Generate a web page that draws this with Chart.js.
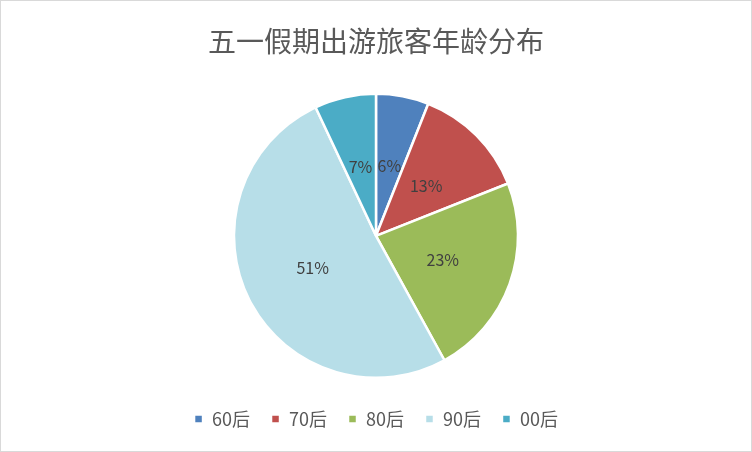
<!DOCTYPE html>
<html>
<head>
<meta charset="utf-8">
<script src="https://cdn.jsdelivr.net/npm/chart.js@4/dist/chart.umd.min.js"></script>
<style>
  html, body { margin: 0; padding: 0; background: #fff; }
  #wrap { position: absolute; left: 0; top: 0; width: 750px; height: 450px; border: 1px solid #d9d9d9; }
</style>
</head>
<body>
<div id="wrap"><canvas id="graph"></canvas></div>
<script>
// 年龄段
const labels = ["60后", "70后", "80后", "90后", "00后"];
// 占比 (%)
const shares = [6, 13, 23, 51, 7];
const colors = ["#4F81BD", "#C0504D", "#9BBB59", "#B7DEE8", "#4BACC6"];

const fontFamily = "'Noto Sans CJK SC', 'Noto Sans', sans-serif";

// 扇区中间画百分比
const pctLabels = {
  id: "pctLabels",
  afterDatasetsDraw(chart) {
    const ctx = chart.ctx;
    const meta = chart.getDatasetMeta(0);
    ctx.save();
    ctx.font = "16px " + fontFamily;
    ctx.fillStyle = "#404040";
    ctx.textAlign = "center";
    ctx.textBaseline = "middle";
    meta.data.forEach((arc, i) => {
      const p = arc.tooltipPosition();
      ctx.fillText(shares[i] + "%", p.x, p.y);
    });
    ctx.restore();
  },
};

let config = {
  type: "pie",
  data: {
    labels: labels,
    datasets: [
      {
        data: shares,
        backgroundColor: colors,
        borderColor: "#ffffff",
        borderWidth: 2.5,
        radius: 142,
      },
    ],
  },
  options: {
    responsive: true,
    maintainAspectRatio: false,
    animation: false,
    layout: { padding: { top: 0, bottom: 13 } },
    plugins: {
      title: {
        display: true,
        text: "五一假期出游旅客年龄分布",
        color: "#595959",
        font: { size: 28, family: fontFamily, weight: "normal" },
        padding: { top: 24, bottom: 24 },
      },
      legend: {
        position: "bottom",
        labels: {
          color: "#595959",
          font: { size: 18, family: fontFamily },
          boxWidth: 9,
          boxHeight: 9,
          padding: 21,
        },
      },
      tooltip: { enabled: false },
    },
  },
  plugins: [pctLabels],
};

window.onload = () => {
  new Chart(document.getElementById("graph"), config);
};
</script>
</body>
</html>
